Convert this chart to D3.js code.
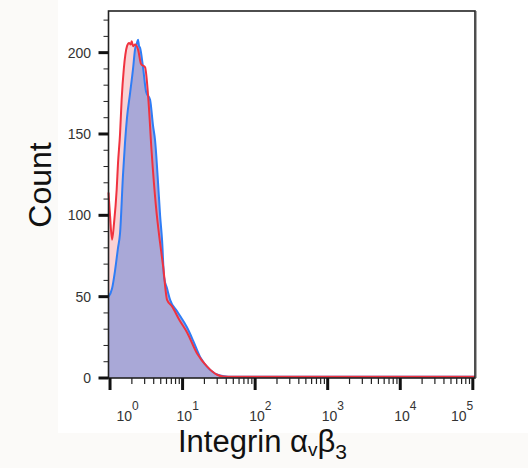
<!DOCTYPE html>
<html>
<head>
<meta charset="utf-8">
<script src="https://cdn.jsdelivr.net/npm/d3@7"></script>
<style>
  body { margin: 0; background: #fbfaf8; }
  svg { display: block; font-family: "Liberation Sans", Arial, sans-serif; }
</style>
</head>
<body>
<svg width="528" height="468"></svg>
<script>
// log10 intensity / count pairs
const blueLog = [-0.021, 0.028, 0.069, 0.110, 0.138, 0.179, 0.207, 0.234, 0.276, 0.317, 0.345, 0.372, 0.386, 0.400, 0.414, 0.455, 0.497, 0.552, 0.593, 0.621, 0.662, 0.690, 0.717, 0.745, 0.786, 0.828, 0.924, 1.062, 1.145, 1.241, 1.379, 1.517, 1.628, 5.03];
const blueCount = [50, 55, 66, 80, 89, 125, 145, 160, 175, 190, 202, 206, 208, 204, 203, 191, 176, 171, 155, 146, 120, 100, 85, 62, 55, 48, 41, 31, 23, 13, 5, 1.5, 0.8, 0.8];

const redLog = [-0.021, 0.000, 0.028, 0.055, 0.092, 0.110, 0.138, 0.160, 0.190, 0.234, 0.262, 0.285, 0.299, 0.317, 0.345, 0.386, 0.428, 0.483, 0.529, 0.572, 0.634, 0.690, 0.731, 0.786, 0.855, 0.952, 1.062, 1.200, 1.338, 1.476, 1.559, 1.700, 5.03];
const redCount = [114, 100, 85, 95, 116, 132, 150, 171, 190, 204, 206, 205, 207, 204, 205, 202, 193, 191, 171, 140, 105, 83, 69, 48, 44, 36, 28, 15, 7, 2, 1, 0.7, 0.7];

const xDecades = [0, 1, 2, 3, 4, 5];
const yMajor = [0, 50, 100, 150, 200];

const svg = d3.select('svg');

// white page area behind the plot
svg.append('rect')
    .attr('x', 58).attr('y', 0)
    .attr('width', 470).attr('height', 433)
    .attr('fill', '#ffffff');

const plotLeft = 108.5, plotRight = 475, plotTop = 11, plotBottom = 378;

const x = d3.scaleLog()
    .domain([Math.pow(10, -0.021), Math.pow(10, 5.03)])
    .range([plotLeft, plotRight]);
const y = d3.scaleLinear()
    .domain([0, 225.6])
    .range([plotBottom, plotTop]);

function series(logs, counts) {
    return logs.map((l, i) => ({v: Math.pow(10, l), c: counts[i]}));
}
const blue = series(blueLog, blueCount);
const red = series(redLog, redCount);

const area = d3.area()
    .x(d => x(d.v))
    .y0(y(0))
    .y1(d => y(d.c))
    .curve(d3.curveMonotoneX);
const line = d3.line()
    .x(d => x(d.v))
    .y(d => y(d.c))
    .curve(d3.curveMonotoneX);

svg.append('path').attr('d', area(red)).attr('fill', '#f9d2d4');
svg.append('path').attr('d', area(blue)).attr('fill', '#a9a8d7');
svg.append('path').attr('d', line(blue))
    .attr('fill', 'none').attr('stroke', '#2f7df6').attr('stroke-width', 2);
svg.append('path').attr('d', line(red))
    .attr('fill', 'none').attr('stroke', '#f0323f').attr('stroke-width', 2);

// frame
svg.append('rect')
    .attr('x', plotLeft).attr('y', plotTop)
    .attr('width', plotRight - plotLeft).attr('height', plotBottom - plotTop)
    .attr('fill', 'none').attr('stroke', '#222').attr('stroke-width', 1.6);
svg.append('line')
    .attr('x1', plotRight + 1.5).attr('x2', plotRight + 1.5)
    .attr('y1', plotTop).attr('y2', plotBottom)
    .attr('stroke', '#aaa').attr('stroke-width', 1);

// y axis
const yMinor = d3.range(0, 230, 10).filter(v => v % 50 !== 0);
const gy = svg.append('g').attr('transform', `translate(${plotLeft},0)`);
gy.selectAll('.minor').data(yMinor).enter().append('line')
    .attr('x1', -5).attr('x2', 0)
    .attr('y1', d => y(d)).attr('y2', d => y(d))
    .attr('stroke', '#222').attr('stroke-width', 1);
gy.selectAll('.major').data(yMajor).enter().append('line')
    .attr('x1', -10).attr('x2', 0)
    .attr('y1', d => y(d)).attr('y2', d => y(d))
    .attr('stroke', '#111').attr('stroke-width', 3);
gy.selectAll('text').data(yMajor).enter().append('text')
    .attr('x', -17.5).attr('y', d => y(d))
    .attr('dy', '0.36em')
    .attr('text-anchor', 'end')
    .attr('font-size', 14)
    .attr('fill', '#333')
    .text(d => d);

// x axis
const xMinor = [];
xDecades.slice(0, -1).forEach(k => {
    for (let m = 2; m <= 9; m++) xMinor.push(m * Math.pow(10, k));
});
const gx = svg.append('g').attr('transform', `translate(0,${plotBottom})`);
gx.selectAll('.minor').data(xMinor).enter().append('line')
    .attr('x1', d => x(d)).attr('x2', d => x(d))
    .attr('y1', 0).attr('y2', 6)
    .attr('stroke', '#222').attr('stroke-width', 1.2);
gx.selectAll('.major').data(xDecades).enter().append('line')
    .attr('x1', d => x(Math.pow(10, d))).attr('x2', d => x(Math.pow(10, d)))
    .attr('y1', 0).attr('y2', 12)
    .attr('stroke', '#111').attr('stroke-width', 3);
const xl = gx.selectAll('text').data(xDecades).enter().append('text')
    .attr('x', d => Math.min(Math.max(x(Math.pow(10, d)) - 6, plotLeft + 8), plotRight - 24))
    .attr('y', 43)
    .attr('font-size', 14)
    .attr('fill', '#333');
xl.append('tspan').text('10');
xl.append('tspan').attr('dy', -11).attr('font-size', 12).text(d => d);

// axis titles
svg.append('text')
    .attr('transform', 'translate(51,185) rotate(-90)')
    .attr('text-anchor', 'middle')
    .attr('font-size', 32)
    .attr('fill', '#111')
    .text('Count');

const title = svg.append('text')
    .attr('x', 178).attr('y', 452)
    .attr('font-size', 31)
    .attr('fill', '#111');
title.append('tspan').text('Integrin α');
title.append('tspan').attr('font-size', 19).attr('dy', 4).text('v');
title.append('tspan').attr('dy', -4).text('β');
title.append('tspan').attr('font-size', 21).attr('dy', 7).text('3');
</script>
</body>
</html>
